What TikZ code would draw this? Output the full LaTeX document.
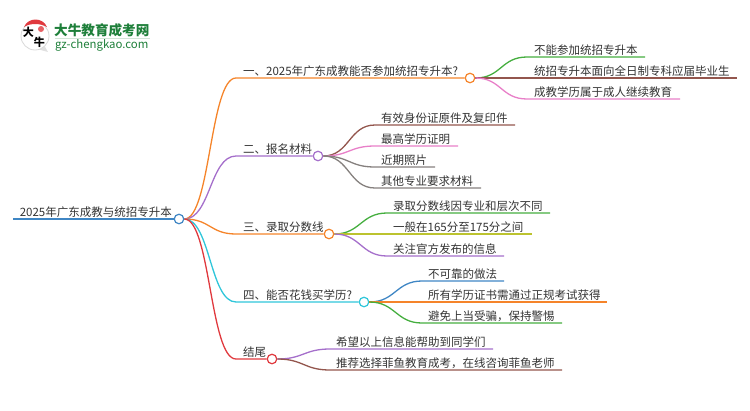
\documentclass[tikz,border=0pt]{standalone}
\usepackage{fontspec}
\setmainfont{Noto Sans CJK SC}
\usepackage{tikz}
\definecolor{cblue}{HTML}{3F86C4}
\definecolor{corange}{HTML}{F5842A}
\definecolor{cpurple}{HTML}{A56FCB}
\definecolor{ccyan}{HTML}{2FC6DA}
\definecolor{cred}{HTML}{E0393E}
\definecolor{cgreen}{HTML}{45AE3F}
\definecolor{cbrown}{HTML}{93564D}
\definecolor{cpink}{HTML}{E87FC8}
\definecolor{cgray}{HTML}{85807E}
\definecolor{colive}{HTML}{BCC32F}
\definecolor{cteal}{HTML}{1E7F3A}
\tikzset{hub/.style={circle,draw,fill=white,line width=1.2pt,minimum size=9.5pt,inner sep=0pt},
  lab/.style={anchor=south west,inner sep=0pt,yshift=-1pt,font=\fontsize{11.5}{12}\selectfont,text=black!80},
  wire/.style={line width=1.3pt},nil/.style={inner sep=0pt}}
\begin{document}
\begin{tikzpicture}[x=1pt,y=-1pt]
\useasboundingbox (0,0) rectangle (750,410);
% logo
\fill[black!12] (48,52) -- (37,49) -- (44,45) -- cycle;
\draw[black!15,fill=white,line width=.8pt] (35,36) circle (14);
\fill[cred] (24,27) .. controls (28,17) and (43,17) .. (47,27) .. controls (40,23) and (30,23) .. (24,27) -- cycle;
\fill[cred!80] (41,29) circle (3);
\node[nil,font=\fontsize{11}{12}\bfseries\selectfont] (logoa) at (28.5,32) {大};
\node[nil,font=\fontsize{11}{12}\bfseries\selectfont] (logob) at (39.5,42.5) {牛};
\node[nil,anchor=west,text=cteal,font=\fontsize{13.6}{14}\bfseries\selectfont] (logot) at (54,30) {大牛教育成考网};
\node[nil,anchor=west,text=cteal,font=\fontsize{11.4}{12}\selectfont] (logou) at (55,45) {gz-chengkao.com};
\draw[cteal!20] (54.5,38.5) -- (150,38.5);
% hubs
\node[hub,draw=cblue] (root) at (179,219) {};
\node[hub,draw=corange] (one) at (470,78) {};
\node[hub,draw=cpurple] (two) at (318,156) {};
\node[hub,draw=corange] (three) at (329,234) {};
\node[hub,draw=ccyan] (four) at (364,302) {};
\node[hub,draw=cred] (five) at (272,359) {};
% root
\coordinate (r0) at (13,219);
\draw[wire,cblue] (r0) -- (root);
\node[lab,anchor=south east] (rl) at (172,217) {2025年广东成教与统招专升本};
% first level
\coordinate (k1) at (236,78);
\coordinate (k2) at (236,156);
\coordinate (k3) at (236,234);
\coordinate (k4) at (236,302);
\coordinate (k5) at (236,359);
\draw[wire,corange] (root.east) .. controls +(26,0) and +(-26,0) .. (k1) -- (one);
\draw[wire,cpurple] (root.east) .. controls +(26,0) and +(-26,0) .. (k2) -- (two);
\draw[wire,corange] (root.east) .. controls +(26,0) and +(-26,0) .. (k3) -- (three);
\draw[wire,ccyan] (root.east) .. controls +(26,0) and +(-26,0) .. (k4) -- (four);
\draw[wire,cred] (root.east) .. controls +(26,0) and +(-26,0) .. (k5) -- (five);
\node[lab] (l1) at (243,76) {一、2025年广东成教能否参加统招专升本?};
\node[lab] (l2) at (243,154) {二、报名材料};
\node[lab] (l3) at (243,232) {三、录取分数线};
\node[lab] (l4) at (243,300) {四、能否花钱买学历?};
\node[lab] (l5) at (243,357) {结尾};
% one
\coordinate (e11) at (645,57);
\coordinate (e12) at (737,78);
\coordinate (e13) at (680,99);
\draw[wire,cgreen] (one.east) .. controls +(26,0) and +(-26,0) .. (527,57) -- (e11);
\draw[wire,cbrown] (one.east) -- (e12);
\draw[wire,cpink] (one.east) .. controls +(26,0) and +(-26,0) .. (527,99) -- (e13);
\node[lab] (l11) at (534,55) {不能参加统招专升本};
\node[lab] (l12) at (534,76) {统招专升本面向全日制专科应届毕业生};
\node[lab] (l13) at (534,97) {成教学历属于成人继续教育};
% two
\coordinate (e21) at (515,125);
\coordinate (e22) at (458,146);
\coordinate (e23) at (435,167);
\coordinate (e24) at (481,188);
\draw[wire,cbrown] (two.east) .. controls +(26,0) and +(-26,0) .. (375,125) -- (e21);
\draw[wire,cpink] (two.east) .. controls +(26,0) and +(-26,0) .. (375,146) -- (e22);
\draw[wire,cgray] (two.east) .. controls +(26,0) and +(-26,0) .. (375,167) -- (e23);
\draw[wire,cgray] (two.east) .. controls +(26,0) and +(-26,0) .. (375,188) -- (e24);
\node[lab] (l21) at (381,123) {有效身份证原件及复印件};
\node[lab] (l22) at (381,144) {最高学历证明};
\node[lab] (l23) at (381,165) {近期照片};
\node[lab] (l24) at (381,186) {其他专业要求材料};
% three
\coordinate (e31) at (550,213);
\coordinate (e32) at (532,234);
\coordinate (e33) at (504,256);
\draw[wire,cgreen] (three.east) .. controls +(26,0) and +(-26,0) .. (387,213) -- (e31);
\draw[wire,colive] (three.east) -- (e32);
\draw[wire,cpurple] (three.east) .. controls +(26,0) and +(-26,0) .. (387,256) -- (e33);
\node[lab] (l31) at (393,211) {录取分数线因专业和层次不同};
\node[lab] (l32) at (393,232) {一般在165分至175分之间};
\node[lab] (l33) at (393,254) {关注官方发布的信息};
% four
\coordinate (e41) at (504,281);
\coordinate (e42) at (607,302);
\coordinate (e43) at (562,323);
\draw[wire,cblue] (four.east) .. controls +(26,0) and +(-26,0) .. (422,281) -- (e41);
\draw[wire,corange] (four.east) -- (e42);
\draw[wire,cgreen] (four.east) .. controls +(26,0) and +(-26,0) .. (422,323) -- (e43);
\node[lab] (l41) at (428,279) {不可靠的做法};
\node[lab] (l42) at (428,300) {所有学历证书需通过正规考试获得};
\node[lab] (l43) at (428,321) {避免上当受骗，保持警惕};
% five
\coordinate (e51) at (493,349);
\coordinate (e52) at (562,370);
\draw[wire,cpurple] (five.east) .. controls +(26,0) and +(-26,0) .. (330,349) -- (e51);
\draw[wire,cbrown] (five.east) .. controls +(26,0) and +(-26,0) .. (330,370) -- (e52);
\node[lab] (l51) at (336,347) {希望以上信息能帮助到同学们};
\node[lab] (l52) at (336,368) {推荐选择菲鱼教育成考，在线咨询菲鱼老师};
\end{tikzpicture}
\end{document}
